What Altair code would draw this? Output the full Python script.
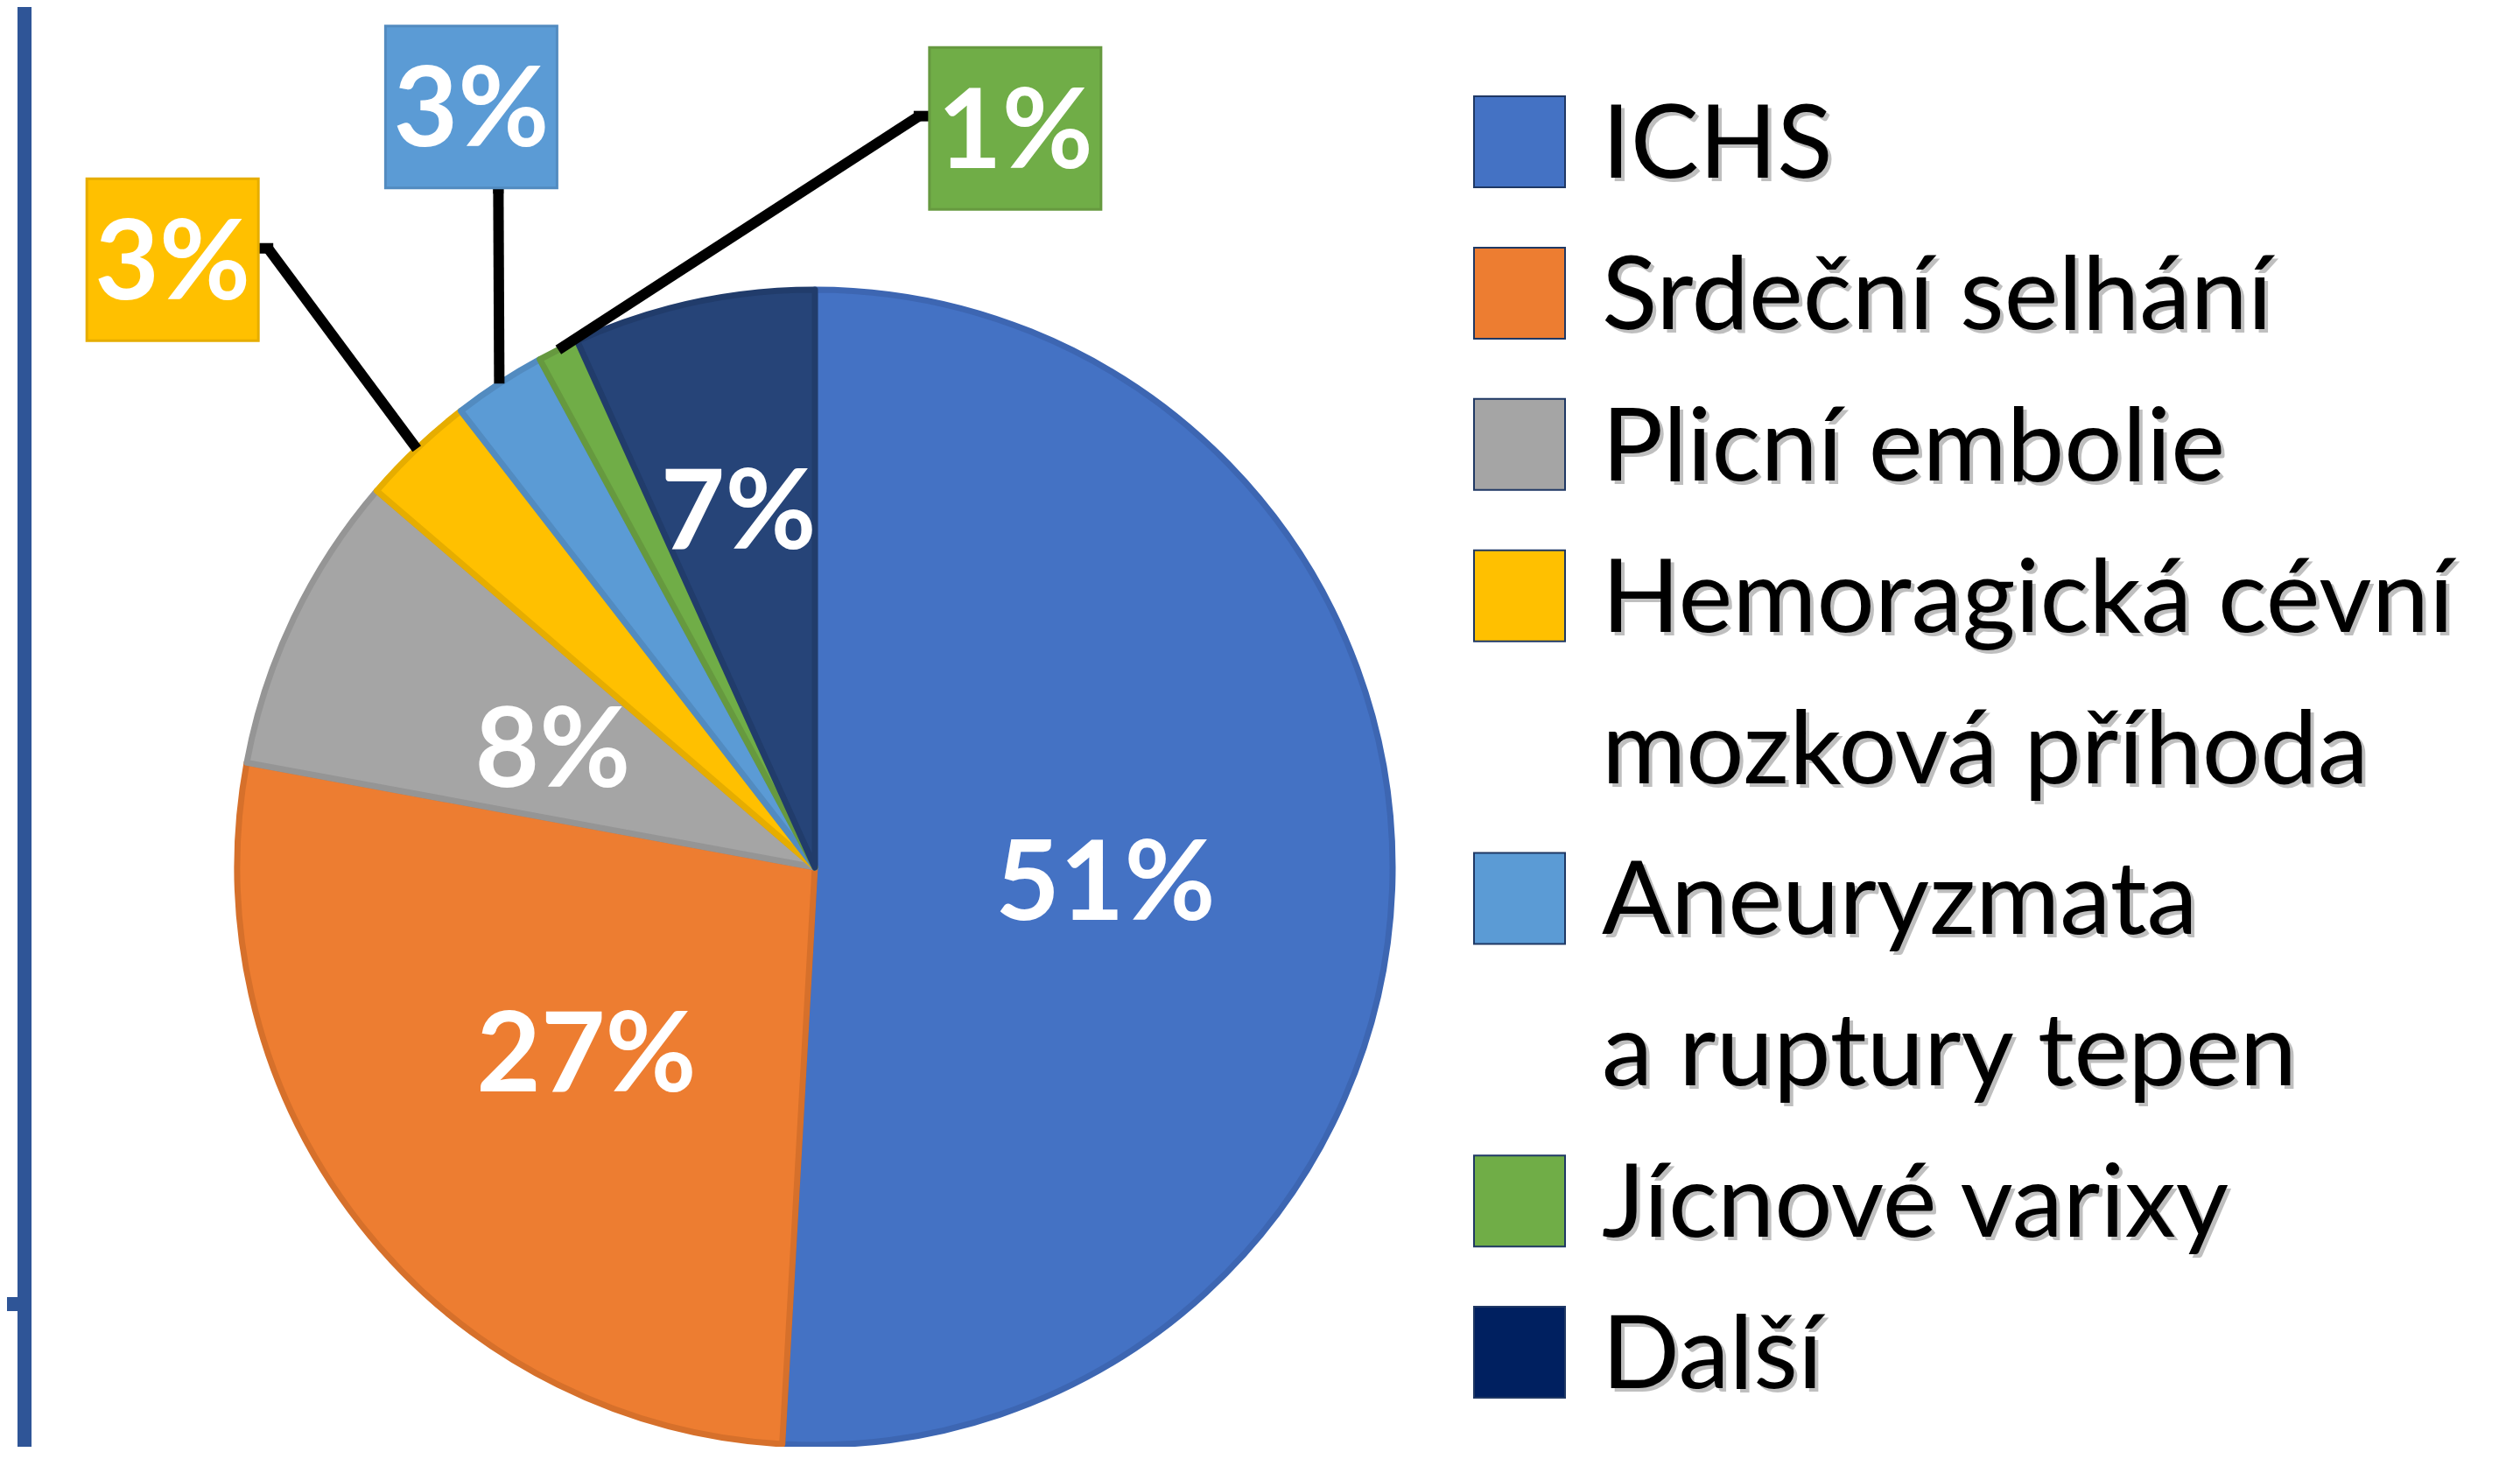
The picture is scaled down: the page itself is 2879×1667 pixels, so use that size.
import altair as alt
import pandas as pd

# ---------------- data ----------------
categories = [
    "ICHS",
    "Srdeční selhání",
    "Plicní embolie",
    "Hemoragická cévní mozková příhoda",
    "Aneuryzmata a ruptury tepen",
    "Jícnové varixy",
    "Další",
]
legend_lines = [
    ["ICHS"],
    ["Srdeční selhání"],
    ["Plicní embolie"],
    ["Hemoragická cévní", "mozková příhoda"],
    ["Aneuryzmata", "a ruptury tepen"],
    ["Jícnové varixy"],
    ["Další"],
]
values = [50.9, 27.0, 8.4, 3.2, 2.6, 1.15, 6.75]

slice_colors = ["#4472C4", "#ED7D31", "#A5A5A5", "#FFC000", "#5B9BD5", "#70AD47", "#264478"]
edge_colors = ["#3D66B2", "#D6702B", "#959595", "#E6AD00", "#528BC0", "#66993F", "#213C6B"]
swatch_colors = ["#4472C4", "#ED7D31", "#A5A5A5", "#FFC000", "#5B9BD5", "#70AD47", "#002060"]

inside_labels = ["ICHS", "Srdeční selhání", "Plicní embolie"]
outer_inside_labels = ["Další"]
# callouts: category, box offset from slice rim point, elbow offset, side where leader meets box
callouts = [
    ("Hemoragická cévní mozková příhoda", (-279, -216), (-170, -229), "right"),
    ("Aneuryzmata a ruptury tepen", (-32, -316), (-1, -223), "bottom"),
    ("Jícnové varixy", (522, -253), (412, -267), "left"),
]

# ---------------- layout ----------------
W, H = 2860, 1645
CX, CY, R = 923, 983, 660
BOX_W, BOX_H = 196, 185
FONT = "Lato"
LABEL_SIZE = 127
LEGEND_SIZE = 117

df = pd.DataFrame({"cat": categories, "value": values, "idx": list(range(len(categories)))})

rows = []
r = 0
for ci, (cat, lines) in enumerate(zip(categories, legend_lines)):
    for li, line in enumerate(lines):
        rows.append({"row": r, "text": line, "cat": cat if li == 0 else None, "swatch": li == 0})
        r += 1
legend_df = pd.DataFrame(rows)
n_rows = len(rows)

color_scale = alt.Scale(domain=categories, range=slice_colors)
edge_scale = alt.Scale(domain=categories, range=edge_colors)
swatch_scale = alt.Scale(domain=categories, range=swatch_colors)

base = alt.Chart(df).encode(
    theta=alt.Theta("value:Q", stack=True),
    order=alt.Order("idx:Q"),
    x=alt.value(CX),
    y=alt.value(CY),
)

arcs = base.mark_arc(outerRadius=R, strokeWidth=7, strokeJoin="round").encode(
    color=alt.Color("cat:N", scale=color_scale, legend=None),
    stroke=alt.Stroke("cat:N", scale=edge_scale, legend=None),
)

def in_list(lst):
    return "indexof([" + ",".join("'" + s + "'" for s in lst) + "], datum.cat) >= 0"

inner_text = base.mark_text(
    radius=332, font=FONT, fontSize=LABEL_SIZE, fontWeight="bold", color="white",
    align="center", baseline="middle", dy=13,
).transform_calculate(
    lab=f"{in_list(inside_labels)} ? format(datum.value/100, '.0%') : ''"
).encode(text="lab:N")

outer_text = base.mark_text(
    radius=415, font=FONT, fontSize=LABEL_SIZE, fontWeight="bold", color="white",
    align="center", baseline="middle", dy=4,
).transform_calculate(
    lab=f"{in_list(outer_inside_labels)} ? format(datum.value/100, '.0%') : ''"
).encode(text="lab:N")

layers = [arcs, inner_text, outer_text]

for cat, (bx, by), (ex, ey), side in callouts:
    c = alt.Chart(df).transform_joinaggregate(
        total="sum(value)"
    ).transform_window(
        cum="sum(value)", sort=[alt.SortField("idx")]
    ).transform_calculate(
        mid="(datum.cum - datum.value/2) / datum.total * 2 * PI",
        rx=f"{CX} + {R} * sin(datum.mid)",
        ry=f"{CY} - {R} * cos(datum.mid)",
        bx=f"datum.rx + ({bx})",
        by=f"datum.ry + ({by})",
        ex=f"datum.rx + ({ex})",
        ey=f"datum.ry + ({ey})",
        lab="format(datum.value/100, '.0%')",
    ).transform_calculate(
        bx1=f"datum.bx - {BOX_W/2}",
        bx2=f"datum.bx + {BOX_W/2}",
        by1=f"datum.by - {BOX_H/2}",
        by2=f"datum.by + {BOX_H/2}",
        fx=("datum.bx + %s" % (BOX_W / 2)) if side == "right" else (("datum.bx - %s" % (BOX_W / 2)) if side == "left" else "datum.ex"),
    ).transform_filter(alt.datum.cat == cat)

    seg1 = c.mark_rule(color="black", strokeWidth=12, strokeCap="butt").encode(
        x=alt.X("rx:Q", scale=None), y=alt.Y("ry:Q", scale=None),
        x2="ex:Q", y2="ey:Q",
    )
    seg2 = c.mark_rule(color="black", strokeWidth=12, strokeCap="square").encode(
        x=alt.X("ex:Q", scale=None), y=alt.Y("ey:Q", scale=None),
        x2="fx:Q", y2="ey:Q",
    )
    box = c.mark_rect(strokeWidth=3).encode(
        x=alt.X("bx1:Q", scale=None), x2="bx2:Q",
        y=alt.Y("by1:Q", scale=None), y2="by2:Q",
        color=alt.Color("cat:N", scale=color_scale, legend=None),
        stroke=alt.Stroke("cat:N", scale=edge_scale, legend=None),
    )
    txt = c.mark_text(font=FONT, fontSize=LABEL_SIZE, fontWeight="bold", color="white",
                      align="center", baseline="middle", dy=7).encode(
        x=alt.X("bx:Q", scale=None), y=alt.Y("by:Q", scale=None), text="lab:N"
    )
    layers += [seg1, seg2, box, txt]

# ---------------- legend ----------------
row_scale = alt.Scale(type="point", domain=list(range(n_rows)), range=[154, 1537], padding=0)
leg_base = alt.Chart(legend_df).encode(y=alt.Y("row:O", scale=row_scale, axis=None))

swatches = leg_base.mark_point(
    shape="square", filled=True, size=104 * 104, opacity=1, stroke="#1F3864", strokeWidth=2
).encode(
    x=alt.value(1728),
    fill=alt.Fill("cat:N", scale=swatch_scale, legend=None),
).transform_filter("datum.swatch")

shadow = leg_base.mark_text(
    font=FONT, fontSize=LEGEND_SIZE, align="left", baseline="middle",
    color="#8c8c8c", opacity=0.55, dx=4, dy=10,
).encode(x=alt.value(1822), text="text:N")

leg_text = leg_base.mark_text(
    font=FONT, fontSize=LEGEND_SIZE, align="left", baseline="middle", color="black", dy=6,
).encode(x=alt.value(1822), text="text:N")

# slide frame line on the left
frame_v = alt.Chart(df).mark_rect(color="#2F5597").encode(
    x=alt.value(12), x2=alt.value(28), y=alt.value(0), y2=alt.value(H)
)
frame_h = alt.Chart(df).mark_rect(color="#2F5597").encode(
    x=alt.value(0), x2=alt.value(14), y=alt.value(1474), y2=alt.value(1490)
)

chart = alt.layer(
    frame_v, frame_h, *layers, swatches, shadow, leg_text
).resolve_scale(
    x="independent", y="independent"
).properties(
    width=W, height=H, padding=0,
    autosize=alt.AutoSizeParams(type="none"),
    background="white",
).configure_view(stroke=None)

chart.save("out.html", embed_options={"renderer": "svg", "actions": False})
